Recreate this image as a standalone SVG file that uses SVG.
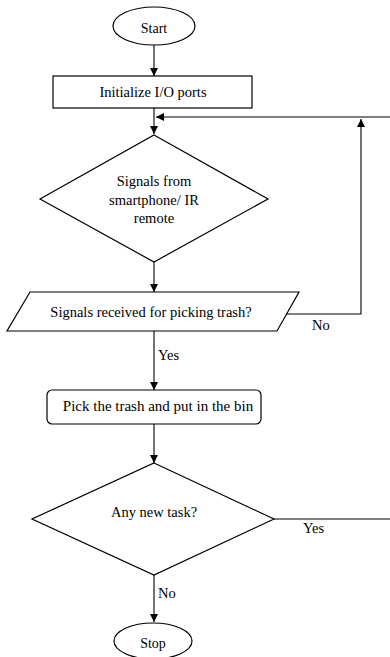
<svg xmlns="http://www.w3.org/2000/svg" width="390" height="657" viewBox="0 0 390 657" font-family="Liberation Serif, serif" font-size="14.5">
<style>
.s{fill:#fff;stroke:#000;stroke-width:1.2}
.c{fill:none;stroke:#000;stroke-width:1.1}
.m{text-anchor:middle}
</style>
<defs>
<marker id="a" viewBox="0 0 10 10" refX="10" refY="5" markerWidth="8" markerHeight="8" markerUnits="userSpaceOnUse" orient="auto">
<path d="M0,0 L10,5 L0,10 Z" fill="#000"/>
</marker>
</defs>
<rect width="390" height="657" fill="#fff"/>
<g id="connectors">
<line class="c" x1="154" y1="45" x2="154" y2="76" marker-end="url(#a)"/>
<line class="c" x1="154" y1="108" x2="154" y2="134" marker-end="url(#a)"/>
<polyline class="c" points="390,117 156,117" marker-end="url(#a)"/>
<line class="c" x1="154" y1="262" x2="154" y2="292" marker-end="url(#a)"/>
<polyline class="c" points="286,314 361,314 361,119" marker-end="url(#a)"/>
<line class="c" x1="154" y1="331" x2="154" y2="390" marker-end="url(#a)"/>
<line class="c" x1="154" y1="424" x2="154" y2="463" marker-end="url(#a)"/>
<line class="c" x1="274" y1="519" x2="390" y2="519"/>
<line class="c" x1="154" y1="575" x2="154" y2="622" marker-end="url(#a)"/>
<text x="312" y="330">No</text>
<text x="158" y="360">Yes</text>
<text x="303" y="533">Yes</text>
<text x="158" y="598">No</text>
</g>
<g id="start">
<ellipse class="s" cx="154" cy="26" rx="41" ry="19"/>
<text class="m" x="154" y="33" font-size="14">Start</text>
</g>
<g id="init">
<rect class="s" x="53" y="76" width="199" height="32"/>
<text class="m" x="153" y="97">Initialize I/O ports</text>
</g>
<g id="signals">
<polygon class="s" points="154,135 268,199 154,262 40,199"/>
<text class="m" x="154" y="186">Signals from</text>
<text class="m" x="154" y="205">smartphone/ IR</text>
<text class="m" x="154" y="223">remote</text>
</g>
<g id="received">
<polygon class="s" points="30,292 299,292 277,331 7,331"/>
<text class="m" x="151" y="317">Signals received for picking trash?</text>
</g>
<g id="pick">
<rect class="s" x="47" y="390" width="214" height="34" rx="5"/>
<text class="m" x="158" y="411" font-size="15">Pick the trash and put in the bin</text>
</g>
<g id="newtask">
<polygon class="s" points="154,463 274,519 154,575 32,519"/>
<text class="m" x="154" y="517">Any new task?</text>
</g>
<g id="stop">
<ellipse class="s" cx="153" cy="641" rx="39" ry="18"/>
<text class="m" x="153" y="648" font-size="14">Stop</text>
</g>
</svg>
